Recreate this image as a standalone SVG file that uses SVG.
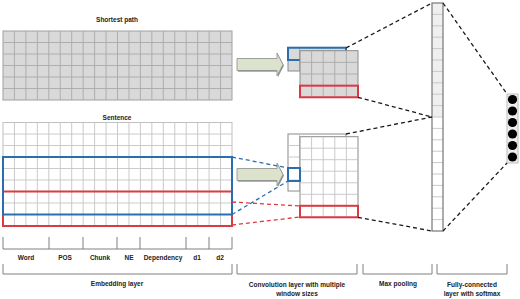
<svg xmlns="http://www.w3.org/2000/svg" width="520" height="299" viewBox="0 0 520 299">
<style>
.t{font-family:"Liberation Sans",Arial,sans-serif;font-weight:bold;font-size:6.5px;fill:#222;text-anchor:middle}
.gl{stroke:#a9a9a9;stroke-width:0.9;fill:none}
.wl{stroke:#c4c4c4;stroke-width:0.9;fill:none}
.br{stroke:#808080;stroke-width:1;fill:none}
.blue{stroke:#2a6eb0;stroke-width:2;fill:none}
.red{stroke:#dc3a42;stroke-width:2;fill:none}
.dk{stroke:#1a1a1a;stroke-width:1.3;stroke-dasharray:4 3;fill:none}
.db{stroke:#2a6eb0;stroke-width:1.3;stroke-dasharray:4 3;fill:none}
.dr{stroke:#dc3a42;stroke-width:1.3;stroke-dasharray:4 3;fill:none}
.arr{fill:#dbe3cd;stroke:#8a8a8a;stroke-width:0.8}
.sh{fill:#9a9a9a}
</style>

<g id="shortest-path">
<text class="t" x="117" y="22.3">Shortest path</text>
<rect x="3" y="31" width="229" height="69" fill="#d9d9d9" stroke="#a0a0a0" stroke-width="1"/>
<path class="gl" d="M14.45 31V100M25.9 31V100M37.35 31V100M48.8 31V100M60.25 31V100M71.7 31V100M83.15 31V100M94.6 31V100M106.05 31V100M117.5 31V100M128.95 31V100M140.4 31V100M151.85 31V100M163.3 31V100M174.75 31V100M186.2 31V100M197.65 31V100M209.1 31V100M220.55 31V100M3 42.5H232M3 54H232M3 65.5H232M3 77H232M3 88.5H232"/>
</g>

<g id="sentence">
<text class="t" x="117" y="119.5">Sentence</text>
<rect x="3" y="122.5" width="229" height="103.5" fill="#fff" stroke="#c0c0c0" stroke-width="1"/>
<path class="wl" d="M14.45 122.5V226M25.9 122.5V226M37.35 122.5V226M48.8 122.5V226M60.25 122.5V226M71.7 122.5V226M83.15 122.5V226M94.6 122.5V226M106.05 122.5V226M117.5 122.5V226M128.95 122.5V226M140.4 122.5V226M151.85 122.5V226M163.3 122.5V226M174.75 122.5V226M186.2 122.5V226M197.65 122.5V226M209.1 122.5V226M220.55 122.5V226M3 134H232M3 145.5H232M3 157H232M3 168.5H232M3 180H232M3 191.5H232M3 203H232M3 214.5H232"/>
<rect class="red" x="3" y="191.5" width="229" height="34.5"/>
<rect class="blue" x="3" y="157" width="229" height="57.5"/>
</g>

<g id="arrow-top">
<polygon class="sh" points="238,59.8 278,59.8 278,54.5 284,65.8 278,77.3 278,71.8 238,71.8"/>
<polygon class="arr" points="237,58.5 277,58.5 277,53 283,64.5 277,76 277,70.5 237,70.5"/>
</g>
<g id="arrow-bottom">
<polygon class="sh" points="238,169.8 278,169.8 278,164.5 284,175.8 278,187.3 278,181.8 238,181.8"/>
<polygon class="arr" points="237,168.5 277,168.5 277,163 283,174.5 277,186 277,180.5 237,180.5"/>
</g>

<g id="conv-top">
<rect x="288" y="47.7" width="58" height="23.3" fill="#d9d9d9" stroke="#8a8a8a" stroke-width="1"/>
<path class="gl" d="M299.5 47.7V71M288 59.5H300"/>
<rect class="blue" x="288" y="47.7" width="58" height="12.3"/>
<rect x="300" y="50.7" width="58" height="46.6" fill="#d9d9d9" stroke="#8a8a8a" stroke-width="1"/>
<path class="gl" d="M311.6 50.7V97.3M323.2 50.7V97.3M334.8 50.7V97.3M346.4 50.7V97.3M300 62.35H358M300 74H358M300 85.65H358"/>
<rect class="red" x="300" y="85.65" width="58" height="11.65"/>
</g>

<g id="conv-bottom">
<rect x="288" y="134" width="58" height="57" fill="#fff" stroke="#8a8a8a" stroke-width="1"/>
<path class="wl" d="M299.5 134V191M288 145.5H300M288 157H300M288 168.5H300M288 180H300"/>
<rect x="300" y="136.7" width="58" height="80.6" fill="#fff" stroke="#8a8a8a" stroke-width="1"/>
<path class="wl" d="M311.6 136.7V217.3M323.2 136.7V217.3M334.8 136.7V217.3M346.4 136.7V217.3M300 148.2H358M300 159.7H358M300 171.2H358M300 182.8H358M300 194.3H358M300 205.8H358"/>
<rect class="blue" x="288" y="168" width="12" height="13"/>
<rect class="red" x="300" y="205.8" width="58" height="11.5"/>
</g>

<g id="max-pooling">
<rect x="432" y="3" width="11" height="114" fill="#efefef"/>
<rect x="432" y="117" width="11" height="114" fill="#fff"/>
<path class="wl" d="M432 14.4H443M432 25.8H443M432 37.2H443M432 48.6H443M432 60H443M432 71.4H443M432 82.8H443M432 94.2H443M432 105.6H443M432 117H443M432 128.4H443M432 139.8H443M432 151.2H443M432 162.6H443M432 174H443M432 185.4H443M432 196.8H443M432 208.2H443M432 219.6H443"/>
<rect x="432" y="3" width="11" height="228" fill="none" stroke="#808080" stroke-width="1.3"/>
</g>

<g id="output">
<rect x="507" y="94" width="11" height="69" fill="#eeeeee" stroke="#bdbdbd" stroke-width="1"/>
<circle cx="512.5" cy="99.5" r="4.6" fill="#000"/>
<circle cx="512.5" cy="111" r="4.6" fill="#000"/>
<circle cx="512.5" cy="122.5" r="4.6" fill="#000"/>
<circle cx="512.5" cy="134" r="4.6" fill="#000"/>
<circle cx="512.5" cy="145.5" r="4.6" fill="#000"/>
<circle cx="512.5" cy="157" r="4.6" fill="#000"/>
</g>

<g id="connectors">
<path class="db" d="M232 157L288 168M232 214.5L288 181"/>
<path class="dr" d="M232 202L300 206M232 225L300 217"/>
<path class="dk" d="M346 48L432 3M358 97.3L432 117M346 134L432 117M358 217.3L432 231M443 3L507 94M443 231L507 163"/>
</g>

<g id="labels">
<path class="br" d="M3 237V249H232V237M49 237V249M83 237V249M117 237V249M140 237V249M186 237V249M209 237V249"/>
<text class="t" x="26" y="260.3">Word</text>
<text class="t" x="65" y="260.3">POS</text>
<text class="t" x="100" y="260.3">Chunk</text>
<text class="t" x="129" y="260.3">NE</text>
<text class="t" x="163" y="260.3">Dependency</text>
<text class="t" x="197" y="260.3">d1</text>
<text class="t" x="220" y="260.3">d2</text>
<path class="br" d="M3 264V274H232V264M237 264V274H357V264M363 264V274H432V264M437 264V274H507V264"/>
<text class="t" x="117" y="286.3">Embedding layer</text>
<text class="t" x="297" y="287.3">Convolution layer with multiple</text>
<text class="t" x="297" y="296.3">window sizes</text>
<text class="t" x="398" y="286.3">Max pooling</text>
<text class="t" x="472" y="287.3">Fully-connected</text>
<text class="t" x="472" y="296.3">layer with softmax</text>
</g>
</svg>
